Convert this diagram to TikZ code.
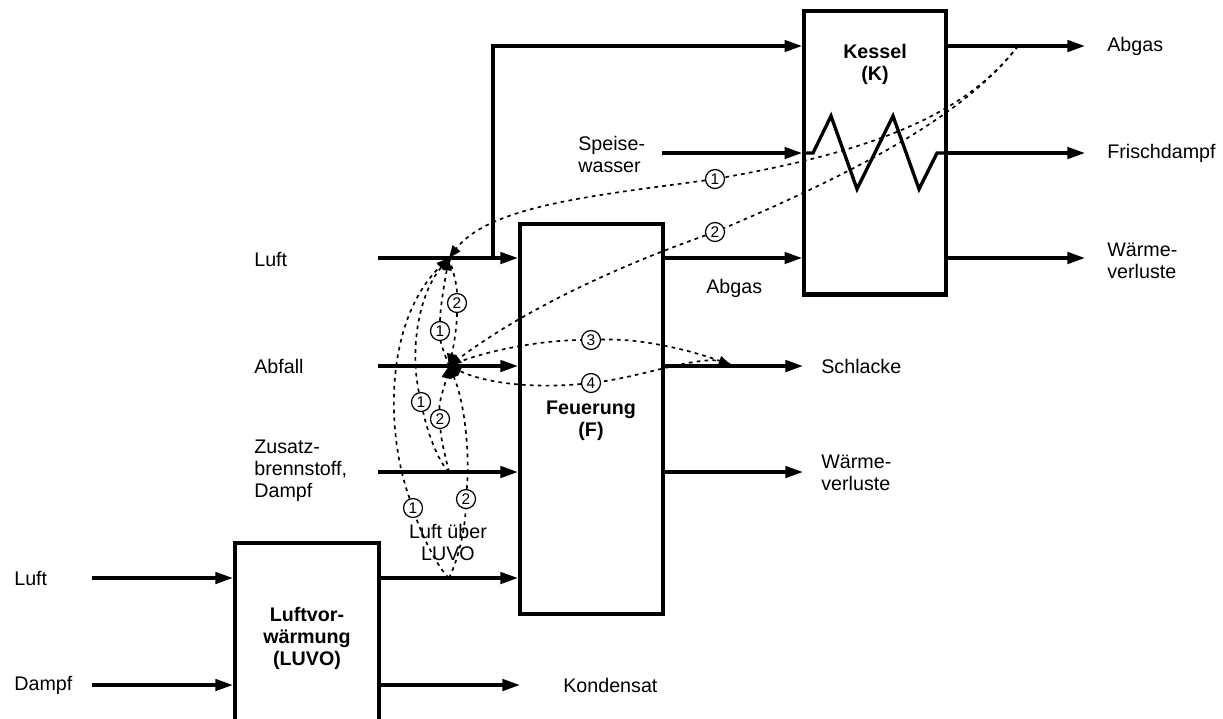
\documentclass[tikz,border=0pt]{standalone}
\usepackage{fontspec}
\setmainfont{Liberation Sans}
\usetikzlibrary{arrows.meta}
\newcommand{\block}{\node[shape = rectangle, draw = black, line width = 2.3pt, inner sep = 0pt]}
\newcommand{\nr}{\node[shape = circle, draw = black, line width = 0.7pt, inner sep = 0pt, minimum size = 10.8pt, font = \fontsize{8.8}{9}\selectfont]}
\newcommand{\txt}{\node[anchor = west, inner sep = 0pt, align = left, font = \fontsize{11.2}{12.5}\selectfont]}
\newcommand{\head}{\node[inner sep = 0pt, align = center, font = \fontsize{11.2}{12.5}\selectfont\bfseries]}
\tikzset{
	flow/.style = {draw = black, line width = 1.9pt, -{Triangle[length = 10pt, width = 6.5pt]}},
	plainflow/.style = {draw = black, line width = 1.9pt},
	recirc/.style = {draw = black, line width = 0.95pt, dash pattern = on 2.1pt off 2.4pt},
	recirchead/.style = {recirc, -{Triangle[length = 7pt, width = 5.5pt]}}
}

\begin{document}
\begin{tikzpicture}[x = 0.02cm, y = -0.02cm]
					\clip (0,0) rectangle (1223,718);
					\block (k) at (875,152.75) [minimum width = 141.7*0.02cm, minimum height = 283.5*0.02cm] {};
					\block (f) at (591.5,419) [minimum width = 143*0.02cm, minimum height = 390*0.02cm] {};
					\block (l) at (307,661) [minimum width = 144*0.02cm, minimum height = 236*0.02cm] {};
					\head (khead) at (875,64) {Kessel\\(K)};
					\head (fhead) at (591,421) {Feuerung\\(F)};
					\head (lhead) at (307,638) {Luftvor-\\wärmung\\(LUVO)};
					% free line ends
					\coordinate (sluft) at (378,258);
					\coordinate (sabfall) at (378,366);
					\coordinate (szusatz) at (378,472);
					\coordinate (sspeise) at (662,153);
					\coordinate (sluftl) at (92,578);
					\coordinate (sdampfl) at (92,685);
					\coordinate (eabgas) at (1085,46);
					\coordinate (efrisch) at (1085,153);
					\coordinate (ewaerme) at (1085,258);
					\coordinate (eschlacke) at (803,366);
					\coordinate (ewaermef) at (803,472);
					\coordinate (ekond) at (520,685);
					\coordinate (bend) at (493,46);
					\coordinate (tee) at (493,258);
					\coordinate (luvoout) at (379,578);
					\coordinate (jluft) at (449,258);
					\coordinate (jabfall) at (449,366);
					\coordinate (jzusatz) at (449,472);
					\coordinate (jluvo) at (449,578);
					\coordinate (jkessel) at (1018,46);
					\coordinate (jschlacke) at (731,365);
					\coordinate (w1) at (813,153);
					\coordinate (w2) at (831,116);
					\coordinate (w3) at (857,189);
					\coordinate (w4) at (893,116);
					\coordinate (w5) at (919,189);
					\coordinate (w6) at (937,153);
					% main flows
					\draw[flow] (sluft) -- (sluft -| f.west);
					\draw[flow] (sabfall) -- (sabfall -| f.west);
					\draw[flow] (szusatz) -- (szusatz -| f.west);
					\draw[flow] (luvoout -| l.east) -- (luvoout -| f.west);
					\draw[flow] (sluftl) -- (sluftl -| l.west);
					\draw[flow] (sdampfl) -- (sdampfl -| l.west);
					\draw[flow] (ekond -| l.east) -- (ekond);
					\draw[flow] (tee -| f.east) -- (tee -| k.west);
					\draw[flow] (eschlacke -| f.east) -- (eschlacke);
					\draw[flow] (ewaermef -| f.east) -- (ewaermef);
					\draw[flow] (bend) -- (bend -| k.west);
					\draw[plainflow, line cap = rect] (tee) -- (bend);
					\draw[flow] (sspeise) -- (sspeise -| k.west);
					\draw[flow] (eabgas -| k.east) -- (eabgas);
					\draw[flow] (efrisch -| k.east) -- (efrisch);
					\draw[flow] (ewaerme -| k.east) -- (ewaerme);
					\draw[plainflow, line join = miter] (sspeise -| k.west) -- (w1) -- (w2) -- (w3) -- (w4) -- (w5) -- (w6) -- (efrisch -| k.east);
					% numbered return lines
					\nr (k1) at (715,179) {1};
					\nr (k2) at (715,232) {2};
					\nr (s3) at (591,340) {3};
					\nr (s4) at (591,383) {4};
					\nr (a1) at (440,331) {1};
					\nr (a2) at (457,303) {2};
					\nr (z1) at (421,402) {1};
					\nr (z2) at (440,419) {2};
					\nr (v1) at (413,508) {1};
					\nr (v2) at (466,499) {2};
					\draw[recirc] (jkessel) .. controls (970,108) and (890,148) .. (k1);
					\draw[recirchead] (k1) .. controls (600,195) and (490,205) .. (jluft);
					\draw[recirc] (jkessel) .. controls (970,108) and (880,162) .. (k2);
					\draw[recirchead] (k2) .. controls (630,262) and (530,305) .. (jabfall);
					\draw[recirc] (jabfall) .. controls (490,348) and (550,340) .. (s3);
					\draw[recirchead] (s3) .. controls (640,338) and (690,350) .. (jschlacke);
					\draw[recirc] (jschlacke) .. controls (712,350) and (650,375) .. (s4);
					\draw[recirchead] (s4) .. controls (540,388) and (490,385) .. (jabfall);
					\draw[recirc] (jluvo) .. controls (436,566) and (420,530) .. (v1);
					\draw[recirchead] (v1) .. controls (385,430) and (385,320) .. (jluft);
					\draw[recirc] (jzusatz) .. controls (437,460) and (427,430) .. (z1);
					\draw[recirchead] (z1) .. controls (410,350) and (418,295) .. (jluft);
					\draw[recirc] (jabfall) .. controls (445,355) and (441,345) .. (a1);
					\draw[recirchead] (a1) .. controls (440,310) and (444,285) .. (jluft);
					\draw[recirc] (jluft) .. controls (453,270) and (457,285) .. (a2);
					\draw[recirchead] (a2) .. controls (457,325) and (454,345) .. (jabfall);
					\draw[recirc] (jzusatz) .. controls (445,455) and (441,440) .. (z2);
					\draw[recirchead] (z2) .. controls (439,400) and (445,385) .. (jabfall);
					\draw[recirc] (jluvo) .. controls (458,560) and (465,530) .. (v2);
					\draw[recirchead] (v2) .. controls (470,450) and (464,400) .. (jabfall);
					% labels
					\txt (tabgas) at (1107,46) {Abgas};
					\txt (tfrisch) at (1107,153) {Frischdampf};
					\txt (twaerme) at (1107,261) {Wärme-\\verluste};
					\txt (tspeise) at (578,154) {Speise-\\wasser};
					\txt (tluft) at (254,259) {Luft};
					\txt (tabfall) at (254,366) {Abfall};
					\txt (tzusatz) at (254,471) {Zusatz-\\brennstoff,\\Dampf};
					\txt (tabgasf) at (706,288) {Abgas};
					\txt (tschlacke) at (821,366) {Schlacke};
					\txt (twaermef) at (821,473) {Wärme-\\verluste};
					\head[font = \fontsize{11.2}{12.5}\selectfont] (tluvo) at (448,542) {Luft über\\LUVO};
					\txt (tluftl) at (14,578) {Luft};
					\txt (tdampfl) at (14,685) {Dampf};
					\txt (tkond) at (563,685) {Kondensat};
				\end{tikzpicture}
\end{document}
